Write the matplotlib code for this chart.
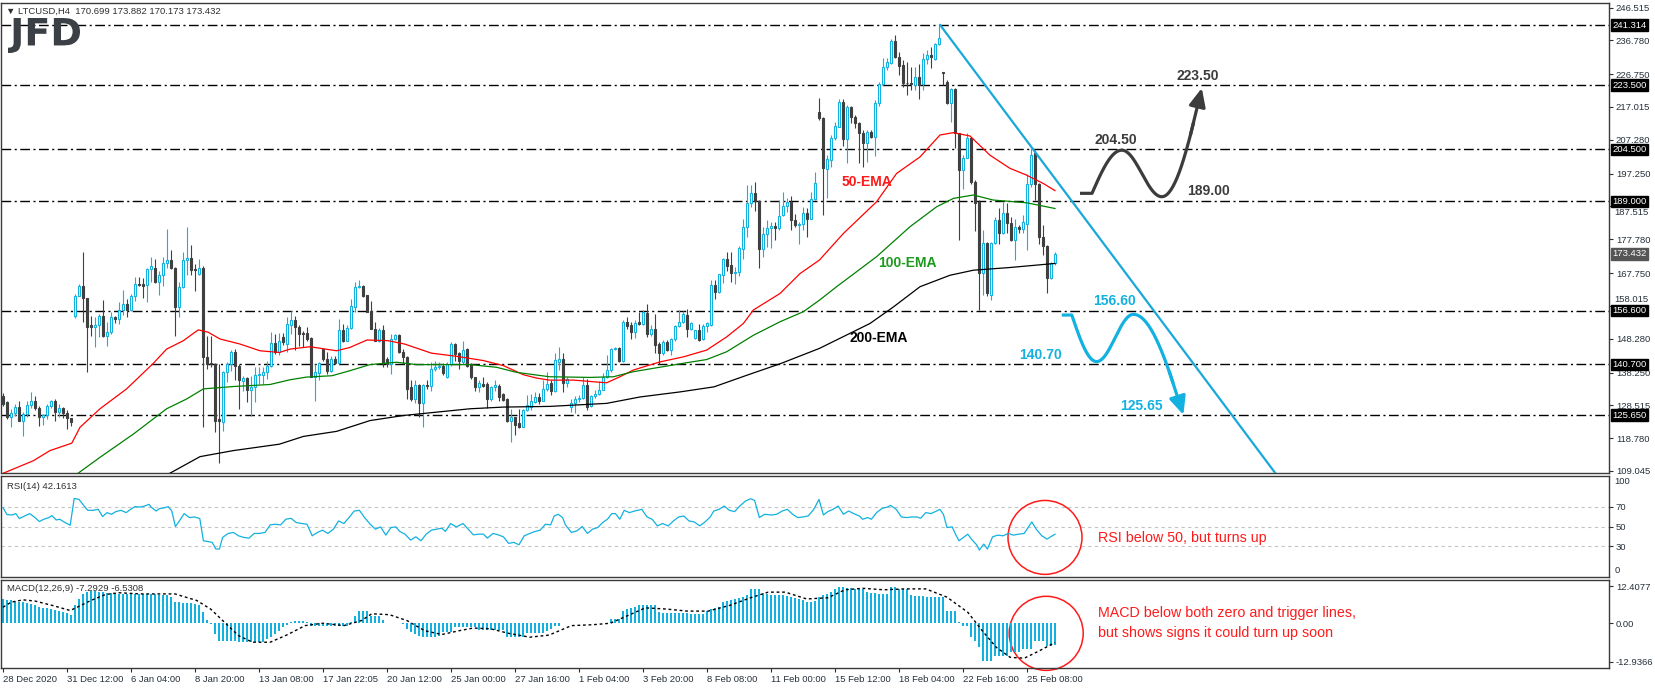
import numpy as np
import matplotlib.pyplot as plt
from matplotlib.patches import Ellipse, PathPatch
from matplotlib.textpath import TextPath
from matplotlib.font_manager import FontProperties
from matplotlib.transforms import Affine2D, blended_transform_factory

plt.rcParams['font.family'] = ['Liberation Sans', 'DejaVu Sans']

# LTCUSD H4 bars, bar 0 = 28 Dec 2020 00:00
opens = [131.4,129.4,125.0,126.2,128.1,124.0,126.0,128.6,129.9,127.8,
         125.0,125.7,128.3,129.9,126.6,127.8,126.2,124.7,155.1,161.0,
         164.0,160.5,152.4,151.9,152.4,155.1,149.0,150.4,154.8,154.0,
         156.8,158.6,156.8,161.0,164.5,164.5,164.2,169.0,169.4,165.0,
         167.3,170.6,171.6,169.3,157.6,163.5,171.6,172.2,169.1,167.5,
         169.4,142.8,141.1,140.8,124.5,123.5,138.3,140.8,144.3,140.3,
         135.7,136.7,133.1,133.9,137.6,137.6,138.3,140.3,146.9,144.3,
         148.9,146.7,152.2,153.9,151.9,150.0,150.0,148.5,136.9,138.0,
         145.2,142.3,138.8,142.3,141.0,150.9,147.7,151.5,157.8,163.5,
         164.0,161.2,156.6,151.2,147.7,150.9,142.3,140.8,148.2,149.5,
         144.3,143.0,133.9,130.4,134.6,129.1,134.6,134.4,139.3,139.8,
         140.3,136.9,140.8,146.7,143.9,141.3,145.2,140.8,136.9,134.1,
         134.9,134.9,130.4,133.9,134.4,131.9,130.4,123.8,125.0,123.2,
         122.2,127.0,128.1,129.4,130.9,129.9,133.4,135.0,132.8,141.4,
         142.4,135.0,127.9,129.3,130.3,130.8,134.5,128.3,131.2,131.8,
         133.2,137.0,139.0,145.1,145.4,141.7,153.3,152.3,150.3,153.3,
         152.6,156.0,149.6,151.3,146.7,143.9,147.4,144.9,148.1,152.0,
         153.3,155.3,151.3,148.4,150.8,148.1,152.0,152.3,164.2,162.2,
         167.1,171.8,170.0,167.8,168.1,175.0,181.3,188.4,191.4,189.2,
         175.0,179.3,181.0,181.7,181.0,184.9,187.6,188.9,183.5,182.0,
         182.3,185.6,183.9,189.6,215.4,213.8,198.5,201.3,207.7,211.2,
         218.6,207.4,216.9,213.9,212.3,209.2,206.4,209.7,208.2,218.3,
         223.8,228.8,230.1,236.7,231.7,229.4,224.2,224.2,223.5,225.8,
         223.8,231.1,232.4,231.1,235.7,227.2,224.5,218.3,222.2,209.2,
         198.3,202.0,207.7,194.8,188.9,167.8,176.7,161.2,176.7,183.5,
         179.7,185.6,182.5,177.7,181.3,180.7,182.3,194.3,203.4,194.3,
         178.5,175.7,166.2,170.699]
highs = [132.1,129.9,127.5,128.9,129.9,126.5,129.9,132.6,131.3,128.4,
         126.0,128.9,130.1,130.3,128.9,128.1,127.2,124.9,161.5,164.5,
         173.9,160.5,155.1,154.6,155.6,159.8,153.1,156.1,155.1,159.1,
         162.8,160.1,161.5,166.5,166.5,166.3,169.4,172.6,171.9,168.5,
         172.4,180.8,174.6,169.5,165.0,173.9,181.5,176.0,170.4,171.9,
         169.9,149.2,149.2,141.0,140.8,138.8,141.3,144.8,145.2,140.8,
         137.3,137.0,137.3,139.8,139.8,139.8,141.6,150.2,149.7,149.9,
         150.0,154.6,156.6,155.1,152.2,150.7,151.7,148.7,140.8,141.3,
         145.5,144.3,143.3,143.3,154.1,152.6,152.2,160.1,165.0,165.7,
         164.3,161.3,159.6,153.1,151.5,152.2,142.8,149.7,149.7,149.7,
         145.2,143.2,135.9,135.9,134.9,134.9,135.9,141.3,141.6,141.3,
         141.0,141.3,147.2,146.9,144.3,147.7,145.5,141.0,137.0,135.9,
         136.9,135.4,134.4,136.1,134.9,132.1,130.6,127.5,125.0,127.5,
         127.5,131.7,131.9,132.4,132.1,135.9,138.3,136.0,143.9,145.9,
         143.9,137.0,130.3,131.2,131.5,137.0,136.2,131.5,133.0,135.8,
         138.0,143.4,145.4,145.7,145.7,153.8,154.8,153.3,153.8,156.3,
         156.8,158.7,152.3,155.6,147.4,147.9,147.9,148.4,152.3,156.8,
         156.6,157.0,153.3,151.0,152.6,152.6,153.3,165.7,165.7,167.6,
         172.1,174.1,174.1,169.6,175.7,183.9,193.8,193.8,194.8,189.4,
         181.5,183.5,183.0,183.0,189.4,191.9,189.9,190.6,185.4,183.0,
         187.2,186.9,191.9,197.8,219.6,214.0,202.7,208.7,212.6,219.3,
         219.3,217.6,217.3,214.6,212.6,210.2,210.2,210.2,219.1,224.5,
         231.4,231.4,237.1,238.3,233.4,230.9,230.4,229.0,229.0,229.7,
         233.1,233.9,234.7,235.9,241.3,227.5,225.0,222.5,222.5,209.4,
         202.7,209.2,208.2,195.3,189.4,180.5,177.0,177.0,184.4,186.9,
         188.9,188.6,184.3,183.9,182.0,184.9,197.1,204.7,204.2,194.5,
         182.0,176.0,171.1,173.882]
lows = [128.4,124.5,122.0,125.5,123.8,119.3,125.0,127.8,127.2,122.3,
        122.7,124.5,127.8,124.0,125.0,124.8,121.5,122.5,154.3,160.8,
        153.3,138.3,149.2,145.7,148.7,148.7,146.2,149.7,152.8,152.6,
        155.4,154.8,156.6,159.6,164.0,160.4,159.1,165.0,164.7,161.3,
        164.0,169.3,169.0,149.2,154.8,163.3,167.3,167.3,162.5,167.3,
        122.2,139.3,139.8,120.5,111.3,121.0,135.4,138.8,135.9,127.5,
        132.9,129.4,125.5,129.4,134.9,134.9,136.4,139.8,143.8,143.5,
        146.5,144.3,149.7,144.8,146.2,145.7,147.7,136.9,129.9,135.9,
        141.8,137.8,138.3,140.8,140.8,147.2,147.5,151.2,156.1,163.3,
        160.7,156.1,151.2,147.5,147.2,139.8,139.8,137.8,147.9,144.0,
        140.8,130.4,129.9,129.1,125.0,122.0,133.4,132.9,138.8,139.3,
        137.6,136.6,140.3,141.8,139.3,140.8,140.0,136.3,132.9,132.4,
        133.9,127.8,129.9,132.9,129.9,129.9,123.5,117.6,119.6,121.8,
        122.0,126.8,127.0,129.1,128.9,129.7,132.9,131.5,132.5,139.0,
        132.5,134.0,126.6,126.1,129.6,130.5,127.1,128.1,130.8,131.5,
        133.0,136.5,138.5,144.9,141.4,141.4,151.3,148.1,148.6,152.3,
        152.3,148.8,149.0,143.9,140.9,143.4,144.7,143.4,147.7,151.8,
        152.8,148.8,150.8,148.1,147.7,147.9,150.3,152.0,160.2,161.7,
        164.7,168.4,165.2,164.4,166.8,171.8,178.5,187.4,186.2,169.4,
        172.6,175.5,175.3,177.7,180.5,184.6,186.0,180.5,181.5,176.3,
        180.5,178.5,183.7,189.4,213.1,184.9,189.9,199.3,207.2,211.0,
        205.4,200.3,212.3,210.7,200.5,199.3,200.8,207.7,202.4,217.3,
        223.5,228.0,229.9,231.4,226.5,223.0,220.5,222.0,222.0,219.3,
        222.0,229.9,228.5,230.9,235.4,223.5,217.9,212.6,204.7,177.5,
        192.8,201.8,194.3,180.3,156.8,161.2,160.9,159.7,176.5,176.3,
        179.3,179.5,177.3,171.6,179.7,179.5,174.6,193.3,189.4,176.5,
        173.1,161.9,165.9,170.173]
closes = [128.9,125.0,126.2,128.1,124.0,126.0,128.6,129.9,127.8,125.0,
          125.7,128.3,129.9,126.6,127.8,126.2,124.7,123.5,161.0,164.0,
          160.3,151.9,151.9,152.4,155.1,149.0,150.4,154.8,154.0,156.8,
          158.6,156.8,161.0,164.5,164.2,164.0,169.0,169.9,165.0,167.3,
          170.6,171.6,169.3,157.6,163.5,171.6,172.2,168.8,168.7,169.4,
          142.8,140.8,140.8,124.0,124.0,138.3,140.8,144.3,140.3,135.9,
          136.7,133.1,133.9,137.6,137.8,138.3,140.3,146.9,144.3,147.7,
          147.2,152.5,153.9,151.7,149.7,149.7,148.2,136.9,138.5,141.0,
          142.3,138.8,142.3,141.0,150.9,147.5,151.5,158.1,163.7,164.0,
          161.0,156.1,151.2,147.7,150.9,141.0,140.8,148.2,149.5,144.3,
          142.8,133.4,130.4,134.6,129.1,134.6,134.4,139.3,140.0,140.3,
          138.0,140.8,146.7,143.8,141.6,144.8,140.3,136.9,134.1,135.1,
          134.4,130.4,134.1,134.6,131.1,130.1,123.8,125.0,122.8,122.2,
          127.2,128.5,129.7,130.9,129.9,133.4,134.9,132.8,141.9,142.4,
          135.0,136.2,129.3,130.3,130.8,134.5,128.1,131.2,131.8,133.2,
          137.0,139.0,145.1,145.4,141.7,153.3,152.1,150.3,153.0,152.6,
          156.3,149.6,151.3,146.4,143.9,147.4,144.9,148.1,152.0,153.3,
          155.6,151.3,152.8,150.8,147.9,152.0,152.8,164.2,162.2,167.4,
          171.8,169.8,167.8,168.1,175.3,181.3,188.4,191.4,189.2,175.0,
          179.3,181.0,181.7,181.0,184.6,187.6,188.9,183.5,182.0,182.3,
          185.6,183.9,189.6,194.5,213.6,198.8,201.5,207.7,211.4,218.6,
          207.4,216.9,213.9,212.3,209.2,206.4,209.7,208.2,218.3,223.8,
          228.8,230.4,236.7,231.7,229.2,224.2,224.0,223.8,225.8,223.5,
          231.1,232.4,231.7,235.7,237.4,227.0,218.3,222.2,209.2,198.3,
          201.8,207.7,194.8,188.6,167.8,176.7,161.7,176.7,183.5,179.7,
          185.6,182.5,177.5,181.3,180.7,183.0,194.3,202.7,194.3,178.5,
          175.7,166.2,170.8,173.432]

# moving averages, read as (bar, price) points along each line
ema50_x = [0.1, 7.6, 11.75, 17.2, 19.25, 24.25, 30.9, 37.6, 40.9, 45.1,
           48.8, 51.3, 54.25, 59.25, 64.25, 69.1, 71.75, 76.75, 83.4, 86.75,
           91, 96.25, 100.4, 107.1, 113.75, 120.1, 125.1, 130.1, 133.4, 136.6,
           142.6, 150.9, 154.25, 157.6, 164.25, 170.1, 175.9, 180.9, 185.1, 187.6,
           194.25, 199.25, 204.1, 210.1, 218.4, 223.4, 229.25, 234.25, 237.6, 241.75,
           246.75, 251.75, 255.9, 260.1, 263]
ema50_v = [108.4, 112.1, 115.1, 117.3, 122.0, 127.5, 133.4, 141.0, 145.2, 147.7,
           150.9, 150.2, 148.2, 146.7, 144.7, 144.2, 145.2, 145.9, 144.7, 145.7,
           147.9, 147.7, 146.7, 144.0, 143.0, 141.8, 140.3, 137.6, 136.6, 136.0,
           136.0, 135.2, 137.0, 139.0, 141.4, 142.9, 144.9, 148.8, 152.8, 156.8,
           161.7, 167.6, 171.6, 179.5, 188.9, 197.3, 202.2, 208.7, 209.4, 208.4,
           202.7, 198.8, 196.8, 194.3, 192.2]
ema100_x = [18.8, 24.25, 32.6, 40.9, 45.9, 50.1, 57.6, 66.75, 71.75, 75.9,
            82.25, 86.75, 91.75, 98.4, 103.4, 110.1, 116.75, 123.4, 128.4, 136.6,
            146.75, 152.6, 157.6, 162.6, 170.1, 175.9, 180.9, 187.6, 194.25, 200.1,
            204.1, 208.4, 218.4, 226.75, 233.4, 237.6, 242.6, 247.6, 255.9, 263]
ema100_v = [108.4, 113.1, 120.0, 127.5, 130.4, 133.4, 134.1, 134.7, 136.1, 136.9,
            137.3, 138.8, 140.6, 141.3, 140.6, 140.6, 140.6, 139.8, 138.3, 137.0,
            136.8, 137.0, 138.5, 139.5, 141.0, 142.1, 144.4, 149.3, 153.3, 156.3,
            159.7, 163.7, 172.6, 181.5, 187.4, 189.9, 190.9, 189.4, 188.6, 186.9]
ema200_x = [41.75, 49.25, 57.6, 69.1, 75.1, 83.4, 91.75, 100.1, 108.4, 116.75,
            125.1, 136.6, 150.9, 159.25, 169.25, 177.75, 186.1, 194.4, 204.1, 216.75,
            222.6, 229.25, 236.75, 242.6, 251.75, 263]
ema200_v = [108.4, 113.3, 115.1, 117.0, 119.3, 120.8, 124.0, 125.5, 126.5, 127.5,
            128.0, 128.2, 129.1, 131.0, 132.5, 134.0, 137.5, 140.9, 145.4, 152.8,
            157.7, 163.7, 167.1, 168.6, 169.4, 170.6]

# RSI(14) read as (bar, value) points
rsi_x = [0, 1.0, 2.3, 3.2, 4.1, 5.4, 6.7, 8.0, 9.1, 10.2,
         11.5, 12.2, 13.3, 14.2, 15.5, 16.8, 17.8, 19.0, 20.3, 21.2,
         22.5, 23.8, 24.9, 26.0, 27.1, 28.2, 29.5, 30.8, 31.9, 33.0,
         34.3, 35.4, 36.5, 37.0, 38.3, 39.1, 40.5, 41.3, 42.2, 43.1,
         44.1, 45.3, 46.6, 47.9, 49.2, 50.1, 51.0, 52.3, 53.2, 54.1,
         54.9, 56.3, 57.6, 58.9, 60.2, 61.5, 62.8, 64.1, 65.5, 66.8,
         68.1, 69.4, 70.7, 72.0, 73.3, 74.7, 76.0, 77.3, 78.6, 79.9,
         81.2, 82.6, 83.9, 85.2, 86.5, 87.8, 89.1, 90.4, 91.8, 93.1,
         94.4, 95.7, 97.0, 98.2, 99.2, 100.5, 101.9, 103.2, 104.5, 105.8,
         107.1, 108.4, 109.7, 110.6, 111.9, 113.3, 115.0, 116.3, 117.6, 119.0,
         120.1, 121.1, 122.5, 123.8, 125.1, 126.4, 127.7, 129.0, 130.3, 131.7,
         133.0, 134.3, 135.6,
         136.9, 137.8, 138.8, 139.9, 140.6, 142.1, 143.5, 144.8, 146.1, 147.4,
         148.7, 149.9, 151.1, 152.2, 153.1, 154.2, 155.3, 156.6, 157.9, 159.7,
         161.0, 162.3, 163.6, 164.9, 166.3, 167.6, 168.9, 170.2, 171.5, 172.8,
         174.2, 175.5, 176.8, 177.7, 179.0, 180.3, 181.6, 182.9, 184.2, 185.6,
         186.9, 187.9, 189.1, 190.4, 192.1, 193.4, 194.8, 196.1, 197.4, 198.7,
         200.0, 201.3, 202.7, 204.0, 205.1, 206.2, 207.5, 208.8, 210.1, 211.4,
         212.7, 214.1, 214.9, 216.2, 217.1, 218.4, 219.8, 221.1, 221.9, 223.3,
         224.6, 225.9, 227.2, 228.5, 229.4, 230.7, 232.0, 233.4, 234.2, 235.1,
         236.0, 237.3, 238.2, 239.0, 239.9, 241.2, 242.1, 243.4, 244.1, 245.2,
         246.1, 247.4, 248.7, 250.0, 251.3, 252.6, 253.9, 255.3, 256.3, 257.2,
         258.3, 259.7, 261.0, 261.9, 263.0]
rsi_v = [69, 62, 61.6, 63, 58, 60.6, 63, 59, 55, 57.3,
         59, 61, 56.6, 57.3, 54, 51.3, 78.3, 77.3, 70.6, 66.3,
         66.3, 67.3, 60, 64, 62.3, 65, 66.3, 64, 67.3, 70,
         69.6, 70.6, 72.3, 69.6, 65.6, 68, 69, 70, 65.6, 50,
         55.6, 63, 59, 59.6, 58, 35.6, 35, 34, 27.3, 27.3,
         39, 43, 44, 40.6, 39, 38.3, 43, 43, 44, 51.6,
         52.3, 51.6, 57.3, 58.3, 54, 53, 52.3, 40.6, 44, 46.3,
         43, 47.3, 55.6, 53, 59, 65.6, 66.3, 59, 52.3, 47.3,
         49.6, 41.3, 49, 49.6, 45, 42.3, 36.3, 39.6, 35.6, 42.3,
         46.3, 47.3, 48.3, 45, 53, 49.6, 53, 47.3, 41.6, 42.3,
         42.3, 38.3, 43, 41.6, 39.6, 33, 34, 31.6, 40.6, 43,
         45, 46.3, 52.3,
         51.6, 60.6, 62.3, 59, 51.6, 44, 45.6, 50, 43, 47.3,
         49, 54, 57.3, 63, 63, 57.3, 66.3, 64, 65.6, 67.3,
         59.6, 57.3, 50.6, 53, 50.6, 55.6, 59.6, 60.6, 55.6, 54.6,
         50.6, 54.6, 59.6, 65.6, 67.3, 70.6, 66.3, 65, 70.6, 75.6,
         78, 76.3, 59, 62.3, 61.6, 62.3, 65.6, 67.3, 62.3, 59,
         59.6, 60.6, 67.3, 77.3, 61.6, 65, 67.3, 70.6, 62.3, 65.6,
         63, 60.6, 57.3, 59, 57.3, 64, 68.3, 69.6, 71.3, 67.3,
         59.6, 59, 59.6, 59.6, 58.3, 64, 63, 65.6, 67.3, 62.3,
         49, 49.6, 41.6, 35.6, 38.3, 42.3, 37.3, 31.6, 26.3, 32.3,
         27.3, 39.6, 41.3, 40.6, 43, 41.3, 42.3, 43, 49, 54.6,
         47.3, 40.6, 37.3, 39.6, 42.16]

# MACD(12,26,9) main value per bar
macd = [8.2,8.0,7.9,7.6,7.3,7.1,6.8,6.4,6.0,5.6,
        5.3,5.1,4.8,4.5,4.2,3.9,3.5,2.9,6.0,8.2,
        10.0,10.5,10.8,10.8,10.7,10.5,10.3,10.2,10.1,10.0,
        10.0,9.9,9.9,9.9,9.9,9.8,9.9,9.9,9.8,9.7,
        9.7,9.7,9.0,7.3,7.1,7.0,6.9,6.7,6.5,6.3,
        3.7,1.1,-0.2,-3.5,-5.9,-5.9,-5.9,-6.0,-6.0,-6.2,
        -6.4,-6.4,-6.4,-6.4,-6.4,-6.3,-5.3,-4.5,-3.6,-2.5,
        -1.1,-0.5,0.3,0.9,0.9,0.9,0.3,-0.8,-0.8,-0.8,
        -0.8,-0.8,-0.8,-0.8,-0.8,-0.8,-0.8,0.3,2.3,4.1,
        4.1,4.1,2.6,2.6,2.6,1.0,0.1,0.0,0.0,0.0,
        -0.3,-1.9,-2.8,-3.6,-4.2,-4.5,-4.5,-4.5,-4.5,-4.3,
        -3.0,-3.0,-3.0,-1.4,-1.4,-1.4,-1.4,-1.4,-1.4,-2.2,
        -2.2,-2.2,-2.2,-2.2,-2.2,-2.2,-4.7,-4.7,-4.7,-4.7,
        -4.7,-3.4,-3.4,-3.4,-3.4,-3.4,-2.5,-1.8,-0.8,-0.8,
        0.2,0.2,0.2,0.2,0.2,0.2,0.2,0.2,0.2,0.2,
        0.2,0.2,1.5,1.5,1.5,4.3,4.8,5.2,5.6,6.0,
        6.0,6.0,6.0,6.0,3.7,3.6,3.5,3.5,3.4,3.4,
        3.3,3.3,3.2,3.2,3.2,3.2,4.3,4.8,5.1,5.4,
        7.1,7.4,7.8,8.2,8.6,9.0,9.4,11.6,11.6,11.6,
        10.3,10.0,9.7,9.4,9.4,9.4,9.1,8.8,8.6,8.3,
        7.7,7.1,7.3,7.6,9.0,9.5,9.9,10.6,11.5,12.2,
        12.2,12.0,11.8,11.6,11.6,11.6,10.5,10.3,10.2,10.0,
        9.9,9.9,12.4,12.4,11.6,11.6,11.6,9.4,9.3,9.2,
        9.1,9.0,8.9,8.8,8.8,8.8,4.3,4.3,4.3,0.3,
        -0.8,-0.8,-4.7,-6.0,-8.1,-12.6,-12.9,-12.6,-10.9,-10.9,
        -10.9,-10.9,-9.8,-9.8,-9.8,-8.7,-8.7,-8.7,-5.9,-5.9,
        -5.9,-7.6,-7.6,-7.3]
# MACD signal line as (bar, value) points
sig_x = [0, 2, 5, 8, 12.4, 16.8, 18.5, 22, 25.6, 29,
         34.3, 43, 48.4, 51.9, 55.4, 58.9, 62.4, 66.8, 71.2, 75.5,
         79.9, 85.2, 89.6, 92.2, 96.6, 101, 105.4, 109.7, 114.1, 117.6,
         122, 126.4, 131.7, 136.5, 138.6, 142.1, 147.4, 151.8, 156.2, 160.6,
         165.8, 171.1, 176.3, 181.6, 186.9, 191.3, 195.6, 200.9, 206.2, 210.5,
         214.9, 220.2, 225.5, 230.7, 236.0, 241.2, 244.8, 248.3, 251.8, 255.3,
         258.8, 263]
sig_v = [5.4, 7.1, 7.9, 7.5, 6.0, 4.3, 5.4, 7.7, 9.7, 10.3,
         9.9, 9.9, 7.7, 4.8, 0.3, -4.2, -6.4, -6.4, -3.8, -0.8,
         0.0, -0.8, 0.9, 3.2, 2.9, 0.9, -2.5, -3.8, -2.5, -1.6,
         -1.9, -3.4, -4.7, -4.0, -2.8, -0.8, -0.5, 0.0, 2.6, 5.2,
         4.8, 4.1, 4.1, 6.0, 8.6, 10.5, 10.5, 8.2, 8.6, 11.3,
         11.8, 11.3, 11.6, 11.6, 8.8, 3.7, -2.5, -8.1, -11.5, -11.8,
         -9.5, -6.5]

date_labels = ['28 Dec 2020', '31 Dec 12:00', '6 Jan 04:00', '8 Jan 20:00', '13 Jan 08:00',
               '17 Jan 22:05', '20 Jan 12:00', '25 Jan 00:00', '27 Jan 16:00', '1 Feb 04:00',
               '3 Feb 20:00', '8 Feb 08:00', '11 Feb 00:00', '15 Feb 12:00', '18 Feb 04:00',
               '22 Feb 16:00', '25 Feb 08:00']
price_ticks = [246.515, 236.780, 226.750, 217.015, 207.280, 197.250, 187.515, 177.780,
               167.750, 158.015, 148.280, 138.250, 128.515, 118.780, 109.045]
levels = [241.314, 223.5, 204.5, 189.0, 156.6, 140.7, 125.65]
last_price = 173.432

# trendline anchors and scenario paths (bar, price)
trend_pts = [(234.3, 241.3), (257.5, 204.5)]
bull_path = [(269.25, 191.4), (272.25, 191.4), (279.7, 204.2), (289.7, 190.4), (299.7, 222.6)]
bear_path = [(264.7, 155.3), (267.2, 155.3), (273.4, 141.5), (282.6, 155.5), (295.1, 125.7)]

CYAN = '#12b1e0'
DARK = '#404040'
RED = '#ff1a1a'
AXTXT = '#26303a'

W, H = 1655, 689
fig = plt.figure(figsize=(W / 100, H / 100), dpi=100)


def px_rect(l, t, r, b):
    return [l / W, 1 - b / H, (r - l) / W, (b - t) / H]


ax = fig.add_axes(px_rect(1, 3, 1609, 473))
ax_rsi = fig.add_axes(px_rect(1, 476, 1609, 577))
ax_macd = fig.add_axes(px_rect(1, 580, 1609, 668))

for a in (ax, ax_rsi, ax_macd):
    a.set_xlim(-0.5, 401.5)
    for s in a.spines.values():
        s.set_color('#3a3a3a')
        s.set_linewidth(1.0)
    a.tick_params(axis='y', left=False, right=True, labelleft=False, labelright=True,
                  length=3, width=0.8, pad=2, labelsize=6.8, colors=AXTXT)
    a.tick_params(axis='x', bottom=False, labelbottom=False)

# ---- price panel ----
ax.set_ylim(108.45, 247.85)
ax.set_yticks(price_ticks)
ytr = blended_transform_factory(ax.transAxes, ax.transData)
px_per_unit = 470 / (247.85 - 108.45)
tick_text = []
for t in price_ticks:
    near = [lv for lv in levels if abs(lv - t) * px_per_unit < 7]
    if near:
        # this label peeks out from behind the level box, as on the chart
        lv = near[0]
        edge = lv + np.sign(t - lv) * 6.5 / px_per_unit
        ax.text(1.0035, edge, f'{t:.3f}', transform=ytr, ha='left',
                va='bottom' if t > lv else 'top', fontsize=6.8, color=AXTXT, clip_on=False)
        tick_text.append('')
    else:
        tick_text.append(f'{t:.3f}')
ax.set_yticklabels(tick_text)

o, hi, lo, c = map(np.array, (opens, highs, lows, closes))
x = np.arange(len(c))
up = c >= o
ax.vlines(x[up], lo[up], hi[up], color=CYAN, lw=0.8, zorder=2)
ax.vlines(x[~up], lo[~up], hi[~up], color=DARK, lw=0.8, zorder=2)
body_lo = np.minimum(o, c)
body_h = np.maximum(np.abs(c - o), 0.25)
ax.bar(x[up], body_h[up], bottom=body_lo[up], width=0.55, facecolor='white',
       edgecolor=CYAN, lw=0.8, zorder=3)
ax.bar(x[~up], body_h[~up], bottom=body_lo[~up], width=0.55, facecolor=DARK,
       edgecolor=DARK, lw=0.8, zorder=3)

for lv in levels:
    ax.axhline(lv, color='black', lw=1.0, ls=(0, (7, 2.5, 1.5, 2.5)), zorder=1)

ax.plot(ema50_x, ema50_v, color='#ff0000', lw=0.9, zorder=4)
ax.plot(ema100_x, ema100_v, color='#008000', lw=0.9, zorder=4)
ax.plot(ema200_x, ema200_v, color='black', lw=0.9, zorder=4)

bold = dict(fontsize=10, fontweight='bold', ha='center', va='center', zorder=6)
ax.text(216, 194.8, '50-EMA', color='#ff1a1a', **bold)
ax.text(226, 170.6, '100-EMA', color='#1e9a1e', **bold)
ax.text(219, 148.4, '200-EMA', color='black', **bold)

# descending trendline from the top, run down to the panel floor
(tx0, ty0), (tx1, ty1) = trend_pts
slope = (ty1 - ty0) / (tx1 - tx0)
y_floor = ax.get_ylim()[0]
ax.plot([tx0, tx0 + (y_floor - ty0) / slope], [ty0, y_floor], color='#1aa8d8', lw=1.6, zorder=5)


def wave(pts):
    kinds = ['line', 'out', 'cos', 'in']
    xs, ys = [], []
    for (p0, p1), k in zip(zip(pts[:-1], pts[1:]), kinds):
        t = np.linspace(0, 1, 40)
        if k == 'line':
            f = t
        elif k == 'out':
            f = np.sin(t * np.pi / 2)
        elif k == 'cos':
            f = (1 - np.cos(np.pi * t)) / 2
        else:
            f = 1 - np.cos(t * np.pi / 2)
        xs.extend(p0[0] + (p1[0] - p0[0]) * t)
        ys.extend(p0[1] + (p1[1] - p0[1]) * f)
    return np.array(xs), np.array(ys)


for pts, col in ((bull_path, '#3c3c3c'), (bear_path, CYAN)):
    xs, ys = wave(pts)
    ax.plot(xs[:-8], ys[:-8], color=col, lw=2.3, zorder=6, solid_capstyle='butt')
    ax.annotate('', xy=(xs[-1], ys[-1]), xytext=(xs[-12], ys[-12]),
                arrowprops=dict(arrowstyle='-|>,head_length=1.1,head_width=0.5', color=col,
                                lw=2.3, shrinkA=0, shrinkB=0), zorder=6)

lab = dict(fontsize=10, fontweight='bold', ha='center', va='center', zorder=7)
ax.text(298.75, 226.2, '223.50', color='#3c3c3c', **lab)
ax.text(278.25, 207.2, '204.50', color='#3c3c3c', **lab)
ax.text(301.5, 192.1, '189.00', color='#3c3c3c', **lab)
ax.text(277.75, 159.5, '156.60', color=CYAN, **lab)
ax.text(259.25, 143.4, '140.70', color=CYAN, **lab)
ax.text(284.5, 128.3, '125.65', color=CYAN, **lab)

for lv in levels:
    ax.text(1.0022, lv, f'{lv:.3f}', transform=ytr, ha='left', va='center', fontsize=6.8,
            color='white', clip_on=False, zorder=8,
            bbox=dict(boxstyle='square,pad=0.12', fc='black', ec='black'))
ax.text(1.0022, last_price, f'{last_price:.3f}', transform=ytr, ha='left', va='center',
        fontsize=6.8, color='white', clip_on=False, zorder=8,
        bbox=dict(boxstyle='square,pad=0.12', fc='#555555', ec='#555555'))

fig.text(6 / W, 1 - 11 / H, '\u25bc LTCUSD,H4  170.699 173.882 170.173 173.432',
         fontsize=6.8, va='center', color='#303030')

# JFD logo
tp = TextPath((0, 0), 'JFD', size=50, prop=FontProperties(family='DejaVu Sans', weight='bold'))
bb = tp.get_extents()
logo_tr = Affine2D().translate(-bb.x0, -bb.y0).scale(72 / bb.width, 35 / bb.height).translate(8, H - 53)
fig.add_artist(PathPatch(tp, transform=logo_tr, facecolor='#3b3f46', edgecolor='none'))

# ---- RSI panel ----
ax_rsi.set_ylim(-0.9, 100.9)
ax_rsi.set_yticks([70, 50, 30])
for lv in (70, 50, 30):
    ax_rsi.axhline(lv, color='#c4c4c4', lw=0.8, ls=(0, (3, 3)), zorder=1)
ax_rsi.plot(rsi_x, rsi_v, color=CYAN, lw=0.9, zorder=3)
rtr = blended_transform_factory(ax_rsi.transAxes, ax_rsi.transData)
ax_rsi.text(1.0035, 99.5, '100', transform=rtr, ha='left', va='top', fontsize=6.8,
            color=AXTXT, clip_on=False)
ax_rsi.text(1.0035, 1.0, '0', transform=rtr, ha='left', va='bottom', fontsize=6.8,
            color=AXTXT, clip_on=False)
ax_rsi.text(0.004, 0.9, 'RSI(14) 42.1613', transform=ax_rsi.transAxes, fontsize=6.8,
            color='#303030', va='center')
ax_rsi.add_patch(Ellipse((260.5, 39), 18.5, 74.5, fill=False, ec=RED, lw=1.1, clip_on=False))
ax_rsi.text(273.7, 38.5, 'RSI below 50, but turns up', color=RED, fontsize=10.3, va='center')

# ---- MACD panel ----
ax_macd.set_ylim(-15.1, 14.6)
ax_macd.set_yticks([12.4077, 0, -12.9366])
ax_macd.set_yticklabels(['12.4077', '0.00', '-12.9366'])
ax_macd.bar(x, macd, width=0.4, color=CYAN, lw=0, zorder=2)
ax_macd.plot(sig_x, sig_v, color='black', lw=1.0, ls=(0, (2, 2)), zorder=3)
ax_macd.text(0.004, 0.9, 'MACD(12,26,9) -7.2929 -6.5308', transform=ax_macd.transAxes,
             fontsize=6.8, color='#303030', va='center')
ax_macd.add_patch(Ellipse((260.8, -3.4), 18.5, 25.0, fill=False, ec=RED, lw=1.1, clip_on=False))
ax_macd.text(273.7, 0.1, 'MACD below both zero and trigger lines,\nbut shows signs it could turn up soon',
             color=RED, fontsize=10.3, va='center', linespacing=1.5)

ax_macd.set_xticks(np.arange(len(date_labels)) * 16)
ax_macd.set_xticklabels(date_labels)
ax_macd.tick_params(axis='x', bottom=True, labelbottom=True, length=3, width=0.8,
                    labelsize=6.8, colors=AXTXT, pad=2)
for t in ax_macd.get_xticklabels():
    t.set_ha('left')

fig.savefig('out.png', dpi=100)
